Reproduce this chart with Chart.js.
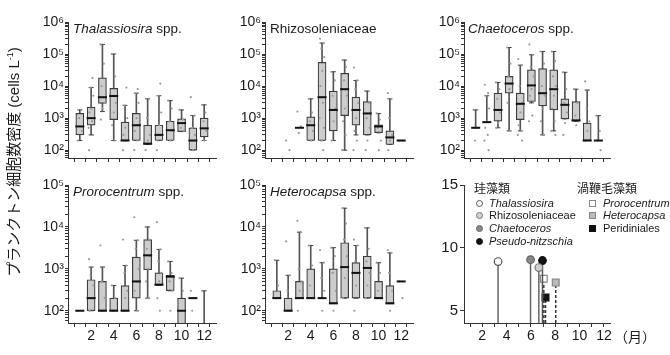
<!DOCTYPE html>
<html><head><meta charset="utf-8">
<script src="https://cdn.jsdelivr.net/npm/chart.js@4/dist/chart.umd.min.js"></script>
<style>
body{margin:0;background:#fff;}
#fig{position:relative;width:670px;height:355px;overflow:hidden;font-family:"Liberation Sans",Arial,sans-serif;color:#1a1a1a;background:#fff;}
canvas{position:absolute;z-index:1;}
.t{position:absolute;z-index:2;font-size:13.5px;line-height:15px;white-space:nowrap;}
.lh{position:absolute;z-index:2;font-family:"Noto Sans CJK JP",sans-serif;font-size:12px;line-height:14px;white-space:nowrap;}
.li{position:absolute;z-index:2;font-size:11px;line-height:13px;white-space:nowrap;}
.mk{position:absolute;z-index:2;width:7px;height:7px;box-sizing:border-box;border:1px solid #555;}
.c{border-radius:50%;}
#ytitle{position:absolute;z-index:2;left:-116px;top:152px;width:260px;height:20px;line-height:20px;text-align:center;transform:rotate(-90deg);font-size:15px;font-family:"Liberation Sans","Noto Sans CJK JP",sans-serif;white-space:nowrap;}
#ytitle sup{font-size:9px;vertical-align:6px;line-height:0;}
#month{position:absolute;z-index:2;left:614px;top:327px;font-family:"Noto Sans CJK JP",sans-serif;font-size:14px;line-height:18px;}
</style></head><body>
<div id="fig">
<canvas id="c1"></canvas><canvas id="c2"></canvas><canvas id="c3"></canvas>
<canvas id="c4"></canvas><canvas id="c5"></canvas><canvas id="c6"></canvas>
<div id="ytitle">プランクトン細胞数密度 (cells L<sup>-1</sup>)</div>
<div class="t" style="left:73px;top:21px"><i>Thalassiosira</i> spp.</div>
<div class="t" style="left:270px;top:21px">Rhizosoleniaceae</div>
<div class="t" style="left:468px;top:21px"><i>Chaetoceros</i> spp.</div>
<div class="t" style="left:73px;top:184px"><i>Prorocentrum</i> spp.</div>
<div class="t" style="left:270px;top:184px"><i>Heterocapsa</i> spp.</div>
<div class="lh" style="left:474px;top:181px">珪藻類</div>
<div class="lh" style="left:577px;top:181px">渦鞭毛藻類</div>
<span class="mk c" style="left:475.5px;top:199.5px;background:#fff;border-color:#555"></span>
<div class="li" style="left:489px;top:196.5px"><i>Thalassiosira</i></div>
<span class="mk c" style="left:475.5px;top:212px;background:#d0d0d0;border-color:#777"></span>
<div class="li" style="left:489px;top:209px">Rhizosoleniaceae</div>
<span class="mk c" style="left:475.5px;top:224.5px;background:#888;border-color:#666"></span>
<div class="li" style="left:489px;top:221.5px"><i>Chaetoceros</i></div>
<span class="mk c" style="left:475.5px;top:238px;background:#111;border-color:#111"></span>
<div class="li" style="left:489px;top:235px"><i>Pseudo-nitzschia</i></div>
<span class="mk" style="left:588.5px;top:199.5px;background:#fff;border-color:#888"></span>
<div class="li" style="left:603px;top:196.5px"><i>Prorocentrum</i></div>
<span class="mk" style="left:588.5px;top:212px;background:#bbb;border-color:#888"></span>
<div class="li" style="left:603px;top:209px"><i>Heterocapsa</i></div>
<span class="mk" style="left:588.5px;top:224.5px;background:#111;border-color:#111"></span>
<div class="li" style="left:603px;top:221.5px">Peridiniales</div>
<div id="month">（月）</div>
</div>
<script>
// ---------- categories & tick labels ----------
const months = [1,2,3,4,5,6,7,8,9,10,11,12];
const xTickLabels = ['', '2', '', '4', '', '6', '', '8', '', '10', '', '12'];
const decadesTop = [2,3,4,5,6];
const decadeLabelsTop = ['10²','10³','10⁴','10⁵','10⁶'];
const decadesBottom = [2,3,4,5];
const decadeLabelsBottom = ['10²','10³','10⁴','10⁵'];
const peakTicks = [5,10,15];

// ---------- Thalassiosira spp. ----------
const thalMin = [200, 300, 1600, 200, 200, 200, 150, 200, 200, 380, 100, 200];
const thalQ1  = [300, 600, 2900, 900, 200, 200, 150, 200, 200, 380, 100, 260];
const thalMed = [550, 1000, 4500, 4900, 200, 600, 160, 300, 420, 700, 200, 480];
const thalQ3  = [1400, 2200, 18000, 8500, 750, 1400, 600, 600, 800, 950, 500, 1000];
const thalMax = [1800, 9000, 200000, 100000, 2500, 6000, 4000, 5000, 3500, 1800, 1200, 2600];
const thalDots = [[200,1800,1000,400],[100,18000,9000,5000,2000,1500,800,500,300],[200000,50000,10000,3000,2000,900],[100000,20000,5000,3000,1500,600,200],[100,9000,2500,1000,500,300,200],[100,8000,6000,3000,1000,400,200],[100,4000,1000,300,200],[100,12000,5000,1500,600,200],[3500,2000,800,400,200],[1800,900,500,400],[4500,1200,500,300,100],[2600,1500,800,400,200]];

// ---------- Rhizosoleniaceae ----------
const rhizMin = [null, null, 500, 200, 200, 200, 100, 300, 300, 350, 150, 200];
const rhizQ1  = [null, null, 500, 200, 200, 400, 1200, 600, 300, 350, 150, null];
const rhizMed = [null, null, 500, 600, 4500, 1800, 8000, 1800, 1400, 550, 250, 200];
const rhizQ3  = [null, null, 500, 1100, 55000, 7000, 25000, 4500, 3300, 620, 400, null];
const rhizMax = [null, null, 500, 4000, 220000, 28000, 65000, 15000, 7000, 1400, 4000, 200];
const rhizDots = [[],[200,100],[1600,550,340],[4000,1500,800,400,200],[300000,220000,150000,80000,30000,10000,3000,1000,500,200,100],[28000,15000,5000,2000,800,200],[65000,40000,15000,5000,2000,800,300,100],[38000,15000,8000,3000,1000,400,200,100],[7000,3000,1000,500,200,100],[1400,900,500,200,100],[6000,4000,1000,300,200,100],[200,200]];

// ---------- Chaetoceros spp. ----------
const chaeMin = [500, 750, 500, 400, 400, 3000, 300, 400, 950, 800, 200, 200];
const chaeQ1  = [500, 750, 800, 6000, 900, 3300, 2400, 1800, 950, 800, 200, 200];
const chaeMed = [500, 750, 1800, 12000, 2800, 10500, 6000, 8000, 2600, 850, 200, 200];
const chaeQ3  = [500, 750, 6000, 20000, 6000, 32000, 35000, 32000, 4000, 3300, 700, 200];
const chaeMax = [1800, 5000, 13000, 160000, 45000, 95000, 120000, 120000, 27000, 8000, 7500, 1200];
const chaeDots = [[1800,500,200],[11000,6000,5000,2000,800,500,300,200,100],[13000,8000,4000,1500,700,500],[160000,50000,20000,12000,8000,3000,400],[70000,45000,10000,3000,1500,600,400,300,200],[200000,95000,40000,20000,8000,5000,1200,800],[120000,50000,10000,5000,2000,800,300],[120000,60000,20000,10000,5000,2000,800,400,300],[27000,8000,3000,1500,700,300],[8000,3000,1200,800,600],[14000,7500,2000,800,400,200],[1200,400,200,100]];

// ---------- Prorocentrum spp. ----------
const prorMin = [100, 100, 100, 100, 100, 100, 200, 400, 300, 40, 200, 40];
const prorQ1  = [100, 100, 100, 100, 100, 200, 950, 400, 300, 40, 200, null];
const prorMed = [100, 200, 100, 100, 100, 500, 2100, 420, 650, 100, 200, null];
const prorQ3  = [100, 550, 500, 200, 400, 1900, 5000, 800, 700, 200, 200, null];
const prorMax = [100, 1100, 1100, 400, 1200, 4800, 10000, 2900, 1500, 600, 200, 300];
const prorDots = [[100],[1700,1100,700,400,200,100],[3600,1100,500,200,100],[400,200,100],[5000,1200,800,300,200,100],[17000,4800,3000,1000,500,300,100],[10000,5000,3000,2000,1000,500,200],[13000,2900,1500,800,500,200,100],[1500,800,500,300,100],[600,300,100],[300,200,100],[300]];

// ---------- Heterocapsa spp. ----------
const heteMin = [200, 100, 200, 200, 200, 150, 200, 200, 200, 200, 150, 500];
const heteQ1  = [200, 100, 200, 200, 200, 150, 200, 200, 200, 200, 150, 500];
const heteMed = [200, 100, 200, 200, 200, 150, 1100, 800, 1050, 200, 150, 500];
const heteQ3  = [300, 200, 500, 1000, 200, 1000, 4200, 1400, 2000, 500, 400, 500];
const heteMax = [1600, 700, 7500, 3600, 1400, 3200, 28000, 3600, 9500, 1400, 2400, 500];
const heteDots = [[1600,400,200],[4500,700,300,100],[14000,7500,1000,500,300,100],[3600,1200,400,200],[2800,1400,600,300,100],[3200,2000,800,300,100],[28000,12000,5000,2000,600,200],[5000,3600,1500,800,400,100],[9500,3000,1500,800,400,200],[1400,800,300,200],[2800,2400,800,300,100],[500,200]];

// ---------- Peak month panel ----------
const peakTaxa  = ['Thalassiosira','Rhizosoleniaceae','Chaetoceros','Pseudo-nitzschia','Prorocentrum','Heterocapsa','Peridiniales'];
const peakMonth = [3.3, 6.65, 5.97, 6.95, 7.06, 8.04, 7.2];
const peakValue = [8.9, 8.42, 9.05, 8.98, 7.53, 7.22, 6.04];

// ---------- styles ----------
const JIT = [-0.18, 0.12, -0.06, 0.2, 0.02, -0.14, 0.08, -0.22, 0.16, -0.02, 0.1];
const FONT = "'Liberation Sans', Arial, sans-serif";
const YW = 50, PT = 14, PR = 8, PB = 2;
const peakStyle = [
  {style:'circle', r:3.8, bg:'#fff', bd:'#555', line:'#666', dash:[]},
  {style:'circle', r:3.8, bg:'#d0d0d0', bd:'#777', line:'#666', dash:[]},
  {style:'circle', r:3.8, bg:'#888', bd:'#666', line:'#666', dash:[]},
  {style:'circle', r:3.8, bg:'#111', bd:'#111', line:'#555', dash:[]},
  {style:'rect', r:4.8, bg:'#fff', bd:'#888', line:'#333', dash:[3,2]},
  {style:'rect', r:4.8, bg:'#bbb', bd:'#888', line:'#333', dash:[3,2]},
  {style:'rect', r:4.8, bg:'#111', bd:'#111', line:'#333', dash:[3,2]}
];

function place(id, area, xh) {
  const cv = document.getElementById(id);
  const w = area.r - area.l + YW + PR;
  const h = area.b - area.t + PT + xh + PB;
  cv.width = w; cv.height = h;
  cv.style.width = w + 'px'; cv.style.height = h + 'px';
  cv.style.left = (area.l - YW) + 'px';
  cv.style.top = (area.t - PT) + 'px';
  return cv;
}

function xScale(withLabels, xh) {
  return {
    type: 'linear', min: 0.5, max: 12.5,
    afterBuildTicks: s => { s.ticks = months.map(v => ({value: v})); },
    afterFit: s => { s.height = xh; },
    grid: {drawOnChartArea: false, drawTicks: true, tickLength: 4, tickColor: '#333'},
    border: {display: true, color: '#333', width: 1},
    ticks: {autoSkip: false, maxRotation: 0, padding: 1, color: '#1a1a1a', font: {family: FONT, size: 14},
      callback: (v, i) => withLabels ? xTickLabels[i] : ''}
  };
}

function logTicks(yMin, yMax, decs) {
  const out = [];
  const lo = decs[0] - 1, hi = decs[decs.length - 1];
  for (let e = lo; e < hi; e++) for (let k = 1; k <= 9; k++) {
    const v = k * Math.pow(10, e);
    if (v >= yMin && v <= yMax) out.push(v);
  }
  out.push(Math.pow(10, hi));
  return out;
}

function boxPanel(id, area, yMin, yMax, decs, decLabels, mins, q1s, meds, q3s, maxs, dots, withLabels) {
  const xh = withLabels ? 24 : 10;
  const cv = place(id, area, xh);
  const whisk = [], boxes = [], caps = [], medPts = [], dotPts = [];
  months.forEach((m, i) => {
    if (mins[i] != null && maxs[i] != null && mins[i] !== maxs[i]) {
      whisk.push({x: m, y: [mins[i], maxs[i]]});
      caps.push({x: m, y: maxs[i]}, {x: m, y: mins[i]});
    }
    if (q1s[i] != null && q3s[i] != null && q1s[i] !== q3s[i]) boxes.push({x: m, y: [q1s[i], q3s[i]]});
    if (meds[i] != null) medPts.push({x: m, y: meds[i]});
    (dots[i] || []).forEach((v, j) => dotPts.push({x: m + JIT[j % JIT.length], y: v}));
  });
  const ticks = logTicks(yMin, yMax, decs);
  new Chart(cv, {
    type: 'bar',
    data: {datasets: [
      {type: 'scatter', data: medPts, order: 0, pointStyle: 'line', pointRadius: 4.5, pointBorderWidth: 2, pointBorderColor: '#111', pointBackgroundColor: '#111'},
      {type: 'scatter', data: dotPts, order: 1, pointStyle: 'circle', pointRadius: 1.1, pointBorderWidth: 0, pointBackgroundColor: '#9a9a9a'},
      {type: 'scatter', data: caps, order: 2, pointStyle: 'line', pointRadius: 2.5, pointBorderWidth: 1, pointBorderColor: '#444'},
      {type: 'bar', data: boxes, order: 3, grouped: false, barThickness: 8, backgroundColor: '#cdcdcd', borderColor: '#3c3c3c', borderWidth: 1.2, borderSkipped: false},
      {type: 'bar', data: whisk, order: 4, grouped: false, barThickness: 1, backgroundColor: '#555', borderWidth: 0}
    ]},
    options: {
      responsive: false, animation: false, devicePixelRatio: 1,
      layout: {padding: {top: PT, right: PR, bottom: PB, left: 0}},
      plugins: {legend: {display: false}, tooltip: {enabled: false}},
      scales: {
        x: xScale(withLabels, xh),
        y: {
          type: 'logarithmic', min: yMin, max: yMax,
          afterBuildTicks: s => { s.ticks = ticks.map(v => ({value: v})); },
          afterFit: s => { s.width = YW; },
          grid: {drawOnChartArea: false, drawTicks: true, tickLength: 3, tickColor: '#333'},
          border: {display: true, color: '#333', width: 1},
          ticks: {autoSkip: false, padding: 1, color: '#1a1a1a', font: {family: FONT, size: 14},
            callback: v => {
              const e = Math.log10(v), r = Math.round(e);
              if (Math.abs(e - r) < 1e-9) { const k = decs.indexOf(r); return k >= 0 ? decLabels[k] : ''; }
              return '';
            }}
        }
      }
    }
  });
}

const rowTop = {t: 22, b: 158}, rowBot = {t: 185, b: 323};
const cols = [{l: 68, r: 216}, {l: 265, r: 413}, {l: 464, r: 610}];
boxPanel('c1', {...cols[0], ...rowTop}, 57, 1e6, decadesTop, decadeLabelsTop, thalMin, thalQ1, thalMed, thalQ3, thalMax, thalDots, false);
boxPanel('c2', {...cols[1], ...rowTop}, 57, 1e6, decadesTop, decadeLabelsTop, rhizMin, rhizQ1, rhizMed, rhizQ3, rhizMax, rhizDots, false);
boxPanel('c3', {...cols[2], ...rowTop}, 57, 1e6, decadesTop, decadeLabelsTop, chaeMin, chaeQ1, chaeMed, chaeQ3, chaeMax, chaeDots, false);
boxPanel('c4', {...cols[0], ...rowBot}, 51, 1e5, decadesBottom, decadeLabelsBottom, prorMin, prorQ1, prorMed, prorQ3, prorMax, prorDots, true);
boxPanel('c5', {...cols[1], ...rowBot}, 51, 1e5, decadesBottom, decadeLabelsBottom, heteMin, heteQ1, heteMed, heteQ3, heteMax, heteDots, true);

// ---------- peak panel ----------
(function () {
  const xh = 24;
  const cv = place('c6', {...cols[2], ...rowBot}, xh);
  const yMin = 4, yMax = 15;
  const ds = peakTaxa.map((name, i) => {
    const s = peakStyle[i];
    return {
      type: 'line', label: name, order: i,
      data: [{x: peakMonth[i], y: yMin}, {x: peakMonth[i], y: peakValue[i]}],
      borderColor: s.line, borderWidth: 1.5, borderDash: s.dash,
      pointRadius: [0, s.r], pointStyle: s.style,
      pointBackgroundColor: s.bg, pointBorderColor: s.bd, pointBorderWidth: 1.2
    };
  });
  new Chart(cv, {
    type: 'line',
    data: {datasets: ds},
    options: {
      responsive: false, animation: false, devicePixelRatio: 1,
      layout: {padding: {top: PT, right: PR, bottom: PB, left: 0}},
      plugins: {legend: {display: false}, tooltip: {enabled: false}},
      scales: {
        x: xScale(true, xh),
        y: {
          type: 'linear', min: yMin, max: yMax,
          afterBuildTicks: s => { s.ticks = peakTicks.map(v => ({value: v})); },
          afterFit: s => { s.width = YW; },
          grid: {drawOnChartArea: false, drawTicks: true, tickLength: 4, tickColor: '#333'},
          border: {display: true, color: '#333', width: 1},
          ticks: {autoSkip: false, padding: 2, color: '#1a1a1a', font: {family: FONT, size: 15}}
        }
      }
    }
  });
})();
</script>
</body></html>
